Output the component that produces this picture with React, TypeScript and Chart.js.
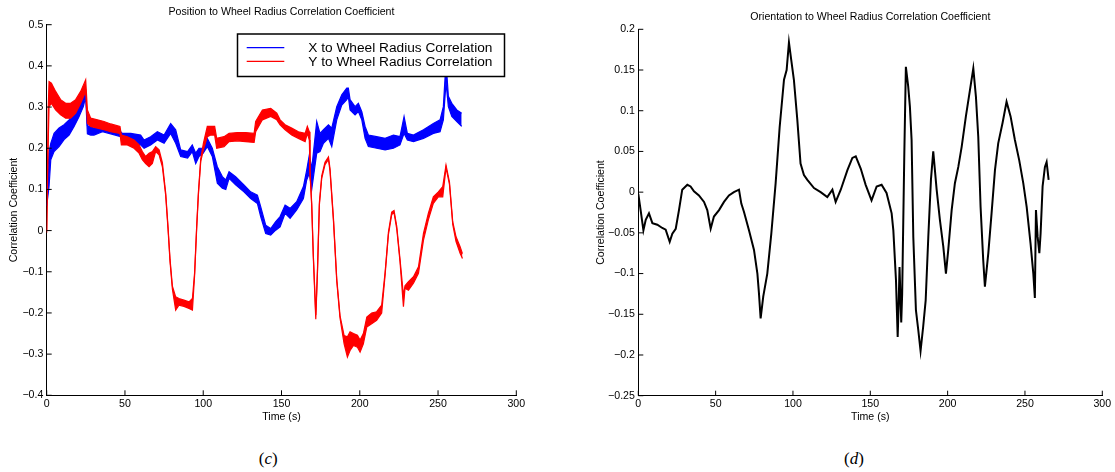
import { useEffect, useRef } from "react";
import { Chart, registerables } from "chart.js";

Chart.register(...registerables);

const SANS = '"Liberation Sans", Arial, Helvetica, sans-serif';
const SERIF = '"Liberation Serif", "Times New Roman", serif';

// ---------- Panel (c): position to wheel radius correlation ----------
const posTitle = "Position to Wheel Radius Correlation Coefficient";
const posLegend = ["X to Wheel Radius Correlation", "Y to Wheel Radius Correlation"];

// X correlation: sample times (s) with the upper and lower edge of the oscillating band
const xCorrTime = [
  0, 1.5, 2.6, 4.7, 7.9, 11.1, 14.3, 17.5, 20.7, 23.4, 24.9, 26.0, 28.1, 30.2, 35.6, 40.9,
  47.3, 48.3, 53.7, 60.0, 62.2, 66.4, 70.7, 75.0, 79.2, 82.4, 85.6, 90.0, 93.0, 95.2, 97.3,
  100.0, 102.6, 105.8, 109.0, 112.2, 114.4, 116.5, 120.7, 126.0, 130.3, 134.6, 136.7, 139.9,
  143.1, 146.3, 149.1, 152.3, 155.5, 159.7, 164.0, 166.1, 167.8, 169.3, 172.5, 174.6, 176.8,
  180.0, 182.1, 185.3, 188.5, 191.7, 192.7, 193.8, 197.0, 199.1, 201.3, 203.4, 205.5, 210.8,
  216.2, 221.5, 225.7, 228.3, 230.4, 234.3, 240.7, 247.0, 251.3, 253.4, 255.1, 256.6, 258.8,
  262.0, 265.1,
];
const xCorrHigh = [
  0.10, 0.188, 0.212, 0.236, 0.249, 0.257, 0.269, 0.285, 0.309, 0.330, 0.338, 0.255, 0.252, 0.249, 0.253, 0.246,
  0.240, 0.236, 0.236, 0.232, 0.220, 0.228, 0.240, 0.232, 0.260, 0.245, 0.196, 0.192, 0.208, 0.188, 0.200,
  0.200, 0.224, 0.200, 0.155, 0.131, 0.123, 0.143, 0.131, 0.111, 0.094, 0.086, 0.058, 0.013,
  0.005, 0.022, 0.034, 0.062, 0.054, 0.070, 0.107, 0.147, 0.184, 0.150, 0.265, 0.236, 0.245,
  0.257, 0.249, 0.301, 0.330, 0.346, 0.346, 0.318, 0.301, 0.309, 0.289, 0.253, 0.232, 0.228,
  0.224, 0.232, 0.228, 0.277, 0.236, 0.232, 0.245, 0.260, 0.269, 0.301, 0.410, 0.326, 0.309,
  0.293, 0.285,
];
const xCorrLow = [
  0.06, 0.107, 0.172, 0.192, 0.204, 0.221, 0.232, 0.253, 0.277, 0.301, 0.325, 0.235, 0.232, 0.232, 0.240, 0.235,
  0.228, 0.218, 0.219, 0.208, 0.200, 0.208, 0.220, 0.212, 0.236, 0.212, 0.180, 0.176, 0.192, 0.163, 0.180,
  0.188, 0.204, 0.180, 0.115, 0.103, 0.100, 0.127, 0.111, 0.094, 0.078, 0.066, 0.034, -0.007,
  -0.011, 0.001, 0.009, 0.042, 0.030, 0.050, 0.078, 0.123, 0.139, 0.100, 0.188, 0.192, 0.212,
  0.224, 0.204, 0.269, 0.305, 0.318, 0.325, 0.293, 0.281, 0.289, 0.269, 0.224, 0.204, 0.200,
  0.196, 0.200, 0.208, 0.236, 0.220, 0.216, 0.224, 0.236, 0.240, 0.269, 0.360, 0.301, 0.277,
  0.265, 0.253,
];

// Y correlation: sample times (s) with the upper and lower edge of the band
const yCorrTime = [
  0, 1.0, 1.5, 3.0, 5.7, 8.9, 12.1, 15.3, 18.5, 21.7, 24.9, 26.0, 28.1, 32.4, 36.6, 40.9, 46.8,
  47.7, 51.5, 55.8, 59.0, 61.1, 63.2, 65.4, 67.5, 69.6, 71.8, 73.9, 76.0, 77.5, 78.8, 80.3,
  82.4, 84.5, 87.7, 90.9, 93.1, 94.5, 95.8, 96.9, 98.4, 100.1, 102.6, 104.8, 107.3, 108.6,
  113.3, 116.5, 121.8, 127.1, 132.5, 133.5, 137.8, 143.1, 147.0, 149.1, 152.3, 156.5, 160.8,
  165.1, 166.5, 167.8, 168.2, 169.3, 170.3, 171.9, 173.0, 174.2, 175.7, 177.8, 180.0, 181.0,
  183.2, 185.3, 187.4, 190.0, 192.1, 193.8, 196.0, 198.5, 200.2, 202.3, 204.5, 207.6, 210.8,
  214.0, 216.2, 218.3, 220.4, 221.9, 223.6, 225.7, 227.9, 228.9, 231.1, 234.3, 237.5, 240.7,
  243.8, 247.0, 250.2, 253.0, 255.1, 257.3, 259.4, 261.5, 264.1, 265.6,
];
const yCorrHigh = [
  0.0, 0.30, 0.362, 0.358, 0.338, 0.318, 0.309, 0.309, 0.318, 0.338, 0.366, 0.293, 0.273, 0.269, 0.265, 0.259, 0.253,
  0.232, 0.228, 0.220, 0.208, 0.192, 0.180, 0.188, 0.192, 0.204, 0.196, 0.165, 0.092, 0.010, -0.070, -0.135,
  -0.161, -0.165, -0.169, -0.173, -0.165, -0.102, 0.010, 0.092, 0.174, 0.212, 0.253, 0.253, 0.253, 0.224,
  0.228, 0.236, 0.238, 0.238, 0.236, 0.265, 0.293, 0.297, 0.285, 0.269, 0.257, 0.249, 0.240,
  0.236, 0.253, 0.240, 0.147, 0.066, -0.056, -0.205, -0.093, 0.068, 0.133, 0.166, 0.179, 0.150,
  0.029, -0.117, -0.207, -0.255, -0.258, -0.246, -0.250, -0.254, -0.266, -0.250, -0.210, -0.200, -0.197,
  -0.181, -0.101, -0.004, 0.045, 0.049, 0.011, -0.069, -0.158, -0.134, -0.124, -0.112, -0.088, -0.007,
  0.042, 0.082, 0.094, 0.107, 0.159, 0.118, 0.021, -0.015, -0.039, -0.056,
];
const yCorrLow = [
  -0.005, 0.22, 0.301, 0.309, 0.293, 0.281, 0.273, 0.273, 0.285, 0.309, 0.338, 0.261, 0.253, 0.249, 0.245, 0.240, 0.236,
  0.208, 0.208, 0.200, 0.188, 0.172, 0.163, 0.155, 0.163, 0.192, 0.184, 0.155, 0.086, 0.004, -0.076, -0.142,
  -0.193, -0.181, -0.184, -0.189, -0.193, -0.108, 0.004, 0.086, 0.168, 0.196, 0.228, 0.232, 0.232, 0.200,
  0.204, 0.216, 0.218, 0.216, 0.214, 0.240, 0.269, 0.277, 0.269, 0.257, 0.245, 0.232, 0.224,
  0.216, 0.236, 0.220, 0.140, 0.060, -0.062, -0.215, -0.099, 0.062, 0.127, 0.160, 0.173, 0.144,
  0.023, -0.123, -0.213, -0.275, -0.307, -0.291, -0.279, -0.283, -0.295, -0.275, -0.234, -0.226, -0.218,
  -0.200, -0.107, -0.010, 0.039, 0.043, 0.005, -0.075, -0.185, -0.140, -0.145, -0.128, -0.104, -0.023,
  0.026, 0.066, 0.082, 0.082, 0.153, 0.112, 0.015, -0.027, -0.055, -0.068,
];

// ---------- Panel (d): orientation to wheel radius correlation ----------
const oriTitle = "Orientation to Wheel Radius Correlation Coefficient";
const oriTime = [
  0, 1.5, 3.3, 4.8, 6.9, 9.1, 12.3, 15.5, 17.7, 20.3, 22.0, 24.2, 26.3, 28.4, 31.7, 33.8, 36.0,
  39.2, 42.5, 44.6, 46.8, 48.9, 52.2, 55.4, 58.6, 61.8, 65.1, 66.6, 68.3, 71.6, 74.8, 77.0,
  78.0, 79.1, 80.8, 83.4, 86.0, 88.8, 91.4, 94.2, 95.9, 97.4, 98.9, 100.6, 102.8, 104.9, 107.1,
  109.3, 113.6, 117.9, 122.2, 125.5, 127.6, 130.9, 135.2, 138.4, 140.6, 143.8, 147.0, 150.8,
  154.1, 157.3, 160.5, 163.8, 164.9, 166.6, 167.7, 168.3, 168.9, 170.0, 170.6, 172.0, 173.0,
  174.5, 175.6, 176.7, 177.8, 179.5, 181.0, 182.5, 184.2, 185.8, 187.5, 189.2, 190.7, 192.9,
  195.0, 197.2, 198.9, 200.4, 202.6, 204.7, 206.9, 209.1, 211.8, 214.4, 216.6, 218.3, 219.8,
  221.3, 223.0, 224.1, 226.3, 228.4, 230.6, 232.7, 235.5, 238.1, 240.7, 243.5, 246.3, 248.9,
  251.1, 253.6, 255.4, 256.4, 257.1, 258.2, 259.3, 260.1, 261.4, 262.9, 264.0, 265.3,
];
const oriCorr = [
  -0.002, -0.022, -0.047, -0.034, -0.026, -0.038, -0.040, -0.044, -0.046, -0.061, -0.051, -0.045, -0.022, 0.003, 0.009, 0.007, 0.001,
  -0.004, -0.012, -0.022, -0.045, -0.030, -0.022, -0.012, -0.004, 0.000, 0.003, -0.014, -0.024, -0.047, -0.071, -0.100,
  -0.124, -0.155, -0.128, -0.100, -0.051, 0.011, 0.080, 0.138, 0.150, 0.184, 0.162, 0.138, 0.089, 0.035, 0.021,
  0.015, 0.005, 0.000, -0.006, 0.003, -0.012, 0.003, 0.027, 0.042, 0.044, 0.029, 0.009, -0.010,
  0.007, 0.009, -0.001, -0.026, -0.047, -0.108, -0.178, -0.140, -0.092, -0.160, -0.125, 0.048, 0.154,
  0.130, 0.105, 0.064, -0.055, -0.145, -0.169, -0.195, -0.165, -0.133, -0.055, 0.015, 0.050, 0.003,
  -0.034, -0.067, -0.100, -0.071, -0.022, 0.011, 0.031, 0.056, 0.093, 0.125, 0.152, 0.117, 0.068,
  -0.018, -0.083, -0.116, -0.075, -0.026, 0.027, 0.060, 0.085, 0.111, 0.093, 0.064, 0.039, 0.011,
  -0.018, -0.063, -0.100, -0.130, -0.022, -0.055, -0.075, -0.051, 0.007, 0.031, 0.037, 0.015,
];

const timeAxisTitle = "Time (s)";
const corrAxisTitle = "Correlation Coefficient";

const pts = (xs: number[], ys: number[]) => xs.map((x, i) => ({ x, y: ys[i] }));

const fmtTick = (v: number) => {
  const r = Math.round(v * 100) / 100;
  if (r === 0) return "0";
  return (r < 0 ? "\u2212" : "") + String(Math.abs(r));
};

type LegendSpec = {
  box: [number, number, number, number];
  lineX: [number, number];
  textX: number;
  rows: { y: number; color: string; text: string }[];
};

type Decor = {
  title: string;
  titleGap: number;
  yTitleX: number;
  xTitleGap: number;
  legend?: LegendSpec;
};

function decorPlugin(d: Decor) {
  return {
    id: "panelDecor",
    afterDraw(chart: any) {
      const { ctx, chartArea: a, scales } = chart;
      ctx.save();
      // inward tick marks on the left and bottom axes
      ctx.strokeStyle = "#000";
      ctx.lineWidth = 1;
      ctx.beginPath();
      scales.x.ticks.forEach((_: any, i: number) => {
        const p = scales.x.getPixelForTick(i);
        ctx.moveTo(p, a.bottom);
        ctx.lineTo(p, a.bottom - 5);
      });
      scales.y.ticks.forEach((_: any, i: number) => {
        const p = scales.y.getPixelForTick(i);
        ctx.moveTo(a.left, p);
        ctx.lineTo(a.left + 5, p);
      });
      ctx.stroke();

      // titles
      ctx.fillStyle = "#000";
      ctx.font = `10.6px ${SANS}`;
      ctx.textAlign = "center";
      ctx.textBaseline = "middle";
      const cx = (a.left + a.right) / 2;
      ctx.fillText(d.title, cx, a.top - d.titleGap);
      ctx.fillText(timeAxisTitle, cx, a.bottom + d.xTitleGap);
      ctx.save();
      ctx.translate(d.yTitleX, (a.top + a.bottom) / 2);
      ctx.rotate(-Math.PI / 2);
      ctx.fillText(corrAxisTitle, 0, 0);
      ctx.restore();

      // legend box
      if (d.legend) {
        const L = d.legend;
        const [x0, y0, x1, y1] = L.box;
        ctx.fillStyle = "#fff";
        ctx.fillRect(x0, y0, x1 - x0, y1 - y0);
        ctx.strokeStyle = "#000";
        ctx.lineWidth = 1.5;
        ctx.strokeRect(x0, y0, x1 - x0, y1 - y0);
        ctx.font = `13.7px ${SANS}`;
        ctx.textAlign = "left";
        ctx.textBaseline = "middle";
        L.rows.forEach((r) => {
          ctx.strokeStyle = r.color;
          ctx.lineWidth = 1.2;
          ctx.beginPath();
          ctx.moveTo(L.lineX[0], r.y);
          ctx.lineTo(L.lineX[1], r.y);
          ctx.stroke();
          ctx.fillStyle = "#000";
          ctx.fillText(r.text, L.textX, r.y + 0.8);
        });
      }
      ctx.restore();
    },
  };
}

function baseOptions(
  yMin: number,
  yMax: number,
  yStep: number,
  yAxisWidth: number,
  xAxisHeight: number,
  padding: { top: number; right: number; left: number; bottom: number }
): any {
  const tickFont = { family: SANS, size: 10.6 };
  return {
    responsive: false,
    animation: false,
    devicePixelRatio: 1,
    events: [],
    layout: { padding, autoPadding: false },
    plugins: { legend: { display: false }, title: { display: false }, tooltip: { enabled: false } },
    elements: { point: { radius: 0 }, line: { tension: 0 } },
    scales: {
      x: {
        type: "linear",
        min: 0,
        max: 300,
        ticks: { stepSize: 50, color: "#000", font: tickFont, padding: 2.5, maxRotation: 0, callback: (v: number) => fmtTick(v) },
        grid: { display: false, drawTicks: false },
        border: { display: true, color: "#000", width: 1 },
        afterFit: (s: any) => {
          s.height = xAxisHeight;
        },
      },
      y: {
        type: "linear",
        min: yMin,
        max: yMax,
        ticks: { stepSize: yStep, color: "#000", font: tickFont, padding: 3.4, callback: (v: number) => fmtTick(v) },
        grid: { display: false, drawTicks: false },
        border: { display: true, color: "#000", width: 1 },
        afterFit: (s: any) => {
          s.width = yAxisWidth;
        },
      },
    },
  };
}

function PositionPanel() {
  const ref = useRef<HTMLCanvasElement | null>(null);
  useEffect(() => {
    if (!ref.current) return;
    const blue = "#0000ff";
    const red = "#ff0000";
    const band = (data: any, color: string, fill: any, order: number) => ({
      data,
      borderColor: color,
      backgroundColor: color,
      borderWidth: 1.2,
      fill,
      order,
      pointRadius: 0,
    });
    const chart = new Chart(ref.current, {
      type: "line",
      data: {
        datasets: [
          band(pts(xCorrTime, xCorrHigh), blue, false, 1),
          band(pts(xCorrTime, xCorrLow), blue, "-1", 1),
          band(pts(yCorrTime, yCorrHigh), red, false, 0),
          band(pts(yCorrTime, yCorrLow), red, "-1", 0),
        ],
      },
      options: baseOptions(-0.4, 0.5, 0.1, 46.7, 34.7, { top: 24.7, right: 43.7, left: 0, bottom: 0 }),
      plugins: [
        decorPlugin({
          title: posTitle,
          titleGap: 12.3,
          yTitleX: 14,
          xTitleGap: 22,
          legend: {
            box: [237.5, 34, 504.5, 76.5],
            lineX: [246.7, 284.3],
            textX: 308.3,
            rows: [
              { y: 47.7, color: blue, text: posLegend[0] },
              { y: 61.4, color: red, text: posLegend[1] },
            ],
          },
        }),
      ],
    } as any);
    return () => chart.destroy();
  }, []);
  return <canvas ref={ref} width={560} height={430} style={{ position: "absolute", left: 0, top: 0 }} />;
}

function OrientationPanel() {
  const ref = useRef<HTMLCanvasElement | null>(null);
  useEffect(() => {
    if (!ref.current) return;
    const chart = new Chart(ref.current, {
      type: "line",
      data: {
        datasets: [
          {
            data: pts(oriTime, oriCorr),
            borderColor: "#000",
            borderWidth: 2,
            fill: false,
            pointRadius: 0,
          },
        ],
      },
      options: baseOptions(-0.25, 0.2, 0.05, 78.3, 34.3, { top: 29.3, right: 12.7, left: 0, bottom: 0 }),
      plugins: [
        decorPlugin({
          title: oriTitle,
          titleGap: 12.0,
          yTitleX: 41,
          xTitleGap: 21.6,
        }),
      ],
    } as any);
    return () => chart.destroy();
  }, []);
  return <canvas ref={ref} width={555} height={430} style={{ position: "absolute", left: 560, top: 0 }} />;
}

const captionStyle = (x: number): any => ({
  position: "absolute",
  left: x,
  top: 458,
  transform: "translate(-50%, -50%)",
  fontFamily: SERIF,
  fontSize: 17,
  lineHeight: 1,
  color: "#000",
  whiteSpace: "nowrap",
});

export default function App() {
  return (
    <div style={{ position: "absolute", left: 0, top: 0, width: 1115, height: 472, background: "#fff", overflow: "hidden" }}>
      <PositionPanel />
      <OrientationPanel />
      <div style={captionStyle(268.3)}>
        (<i>c</i>)
      </div>
      <div style={captionStyle(854)}>
        (<i>d</i>)
      </div>
    </div>
  );
}
